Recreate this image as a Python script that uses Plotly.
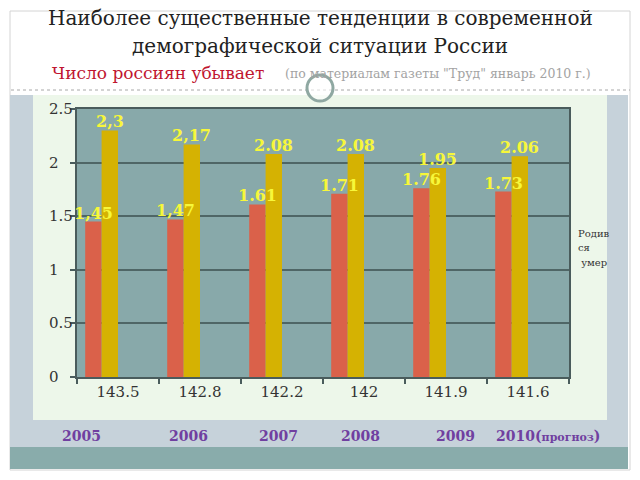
import plotly.graph_objects as go

# ---- data ----
population = ["143.5", "142.8", "142.2", "142", "141.9", "141.6"]
born = [1.45, 1.47, 1.61, 1.71, 1.76, 1.73]
died = [2.3, 2.17, 2.08, 2.08, 1.95, 2.06]
born_labels = ["1,45", "1,47", "1.61", "1.71", "1.76", "1.73"]
died_labels = ["2,3", "2,17", "2.08", "2.08", "1.95", "2.06"]
years = ["2005", "2006", "2007", "2008", "2009", "2010(<span style='font-size:11px'>прогноз</span>)"]
y_ticks = [0, 0.5, 1, 1.5, 2, 2.5]
y_tick_labels = ["0", "0.5", "1", "1.5", "2", "2.5"]
legend_lines = ["Родив", "ся", " умер"]

title_1 = "Наиболее существенные тенденции в современной"
title_2 = "демографической ситуации России"
subtitle_red = "Число россиян убывает"
subtitle_gray = "(по материалам газеты \"Труд\" январь 2010 г.)"

# ---- layout geometry (pixels) ----
W, H = 640, 480
L, R, T, B = 77, 569, 109, 377


def px(x):
    return (x - L) / (R - L)


def py(y):
    return (B - y) / (B - T)


SERIF = "DejaVu Serif"
RED = "#da614a"
YEL = "#d5b202"
LABEL = "#f7f73a"
BAR_W = 0.2
RED_OFF = -0.4
YEL_OFF = -0.2

fig = go.Figure()
fig.add_trace(go.Bar(
    x=population, y=born, name="Родившиеся",
    marker=dict(color=RED, line=dict(width=0)),
    width=BAR_W, offset=RED_OFF,
))
fig.add_trace(go.Bar(
    x=population, y=died, name="умершие",
    marker=dict(color=YEL, line=dict(width=0)),
    width=BAR_W, offset=YEL_OFF,
))

shapes = []
# slide frame
shapes.append(dict(type="rect", xref="paper", yref="paper", layer="below",
                   x0=px(10), x1=px(630), y0=py(470), y1=py(11),
                   fillcolor="white", line=dict(color="#d4d4d4", width=1)))
# slate panel
shapes.append(dict(type="rect", xref="paper", yref="paper", layer="below",
                   x0=px(10), x1=px(628), y0=py(447), y1=py(95),
                   fillcolor="#c6d2da", line=dict(width=0)))
# bottom teal band
shapes.append(dict(type="rect", xref="paper", yref="paper", layer="below",
                   x0=px(10), x1=px(628), y0=py(469), y1=py(447),
                   fillcolor="#89acab", line=dict(width=0)))
# light green chart panel
shapes.append(dict(type="rect", xref="paper", yref="paper", layer="below",
                   x0=px(33), x1=px(607), y0=py(420), y1=py(95),
                   fillcolor="#edf7ea", line=dict(width=0)))
# plot area fill
shapes.append(dict(type="rect", xref="paper", yref="paper", layer="below",
                   x0=0, x1=1, y0=0, y1=1,
                   fillcolor="#88a9aa", line=dict(width=0)))
# dashed separator
shapes.append(dict(type="line", xref="paper", yref="paper", layer="below",
                   x0=px(11), x1=px(630), y0=py(90), y1=py(90),
                   line=dict(color="#a8a8a8", width=1, dash="dot")))
# ring ornament
shapes.append(dict(type="circle", xref="paper", yref="paper", layer="below",
                   x0=px(307), x1=px(333), y0=py(101), y1=py(75),
                   fillcolor="rgba(255,255,255,0.6)", line=dict(color="#8fa8a2", width=3)))

annotations = []
annotations.append(dict(xref="paper", yref="paper", x=px(320), y=py(18), text=title_1,
                        showarrow=False, xanchor="center", yanchor="middle",
                        font=dict(family=SERIF, size=20, color="#222222")))
annotations.append(dict(xref="paper", yref="paper", x=px(320), y=py(46), text=title_2,
                        showarrow=False, xanchor="center", yanchor="middle",
                        font=dict(family=SERIF, size=20, color="#222222")))
annotations.append(dict(xref="paper", yref="paper", x=px(50), y=py(73), text=subtitle_red,
                        showarrow=False, xanchor="left", yanchor="middle",
                        font=dict(family=SERIF, size=17, color="#c01530")))
annotations.append(dict(xref="paper", yref="paper", x=px(283), y=py(73), text=subtitle_gray,
                        showarrow=False, xanchor="left", yanchor="middle",
                        font=dict(family=SERIF, size=12.5, color="#a3a3a3")))

# bar value labels (drawn on top of all bars)
for i, (v, lab) in enumerate(zip(born, born_labels)):
    annotations.append(dict(xref="x", yref="y", x=i + RED_OFF + BAR_W / 2, y=v, text="<b>" + lab + "</b>",
                            showarrow=False, xanchor="center", yanchor="bottom", yshift=-3,
                            font=dict(family=SERIF, size=16, color=LABEL)))
for i, (v, lab) in enumerate(zip(died, died_labels)):
    annotations.append(dict(xref="x", yref="y", x=i + YEL_OFF + BAR_W / 2, y=v, text="<b>" + lab + "</b>",
                            showarrow=False, xanchor="center", yanchor="bottom", yshift=-3,
                            font=dict(family=SERIF, size=16, color=LABEL)))

# y tick labels (left aligned)
for v, lab in zip(y_ticks, y_tick_labels):
    annotations.append(dict(xref="paper", yref="y", x=px(47), y=v, text=lab,
                            showarrow=False, xanchor="left", yanchor="middle",
                            font=dict(family=SERIF, size=15, color="#333333")))

# years
year_x = [81, 188, 278, 360, 455, 548]
for xp, yr in zip(year_x, years):
    annotations.append(dict(xref="paper", yref="paper", x=px(xp), y=py(436), text="<b>" + yr + "</b>",
                            showarrow=False, xanchor="center", yanchor="middle",
                            font=dict(family=SERIF, size=14, color="#7040a0")))

# clipped legend text
legend_y = [233, 247, 262]
for yy, t in zip(legend_y, legend_lines):
    annotations.append(dict(xref="paper", yref="paper", x=px(576), y=py(yy), text=t,
                            showarrow=False, xanchor="left", yanchor="middle",
                            font=dict(family=SERIF, size=10, color="#333333")))

fig.update_layout(
    width=W, height=H,
    margin=dict(l=L, r=W - R, t=T, b=H - B, pad=0),
    paper_bgcolor="white",
    plot_bgcolor="rgba(0,0,0,0)",
    barmode="overlay",
    showlegend=False,
    shapes=shapes,
    annotations=annotations,
    xaxis=dict(type="category", showgrid=False, tickson="boundaries",
               ticks="outside", ticklen=5, tickcolor="#4a5c5c", tickwidth=1.5,
               showline=True, linecolor="#4a5c5c", linewidth=1.5, mirror=True,
               tickfont=dict(family=SERIF, size=15, color="#333333"),
               range=[-0.5, 5.5]),
    yaxis=dict(range=[0, 2.5], tickvals=y_ticks, showticklabels=False,
               showgrid=True, gridcolor="#4f6666", gridwidth=1.5,
               ticks="outside", ticklen=5, tickcolor="#4a5c5c", tickwidth=1.5,
               showline=True, linecolor="#4a5c5c", linewidth=1.5, mirror=True,
               zeroline=False),
)

fig.write_html("out.html")
